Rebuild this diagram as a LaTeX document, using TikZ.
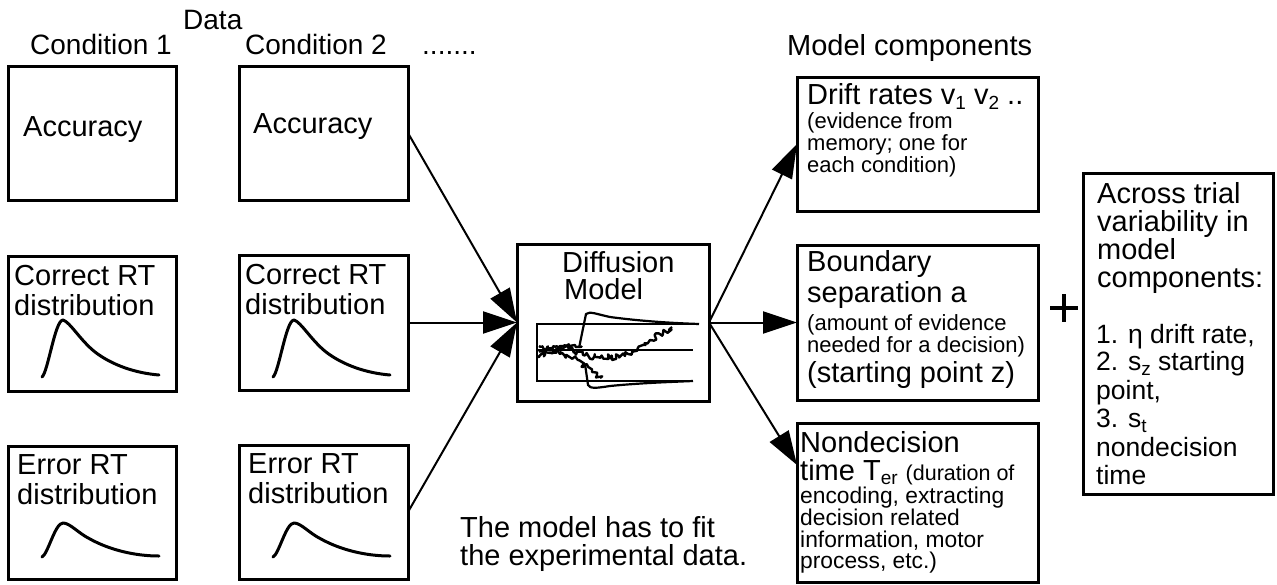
\documentclass[tikz,border=0pt]{standalone}
\usepackage{fontspec}
\setmainfont{Liberation Sans}
\usetikzlibrary{arrows.meta,decorations.pathmorphing}
\newcommand\bigf{\fontsize{29}{29}\selectfont}
\newcommand\midf{\fontsize{26.5}{26.5}\selectfont}
\newcommand\hdf{\fontsize{28}{28}\selectfont}
\newcommand\smallf{\fontsize{22}{22}\selectfont}
\newcommand\ndf{\fontsize{22.8}{22.8}\selectfont}
\newcommand\lsub[1]{\raisebox{-5pt}{\fontsize{19}{19}\selectfont #1}}
\newcommand\tsub[1]{\raisebox{-4pt}{\fontsize{19}{19}\selectfont #1}}
\begin{document}
\begin{tikzpicture}[x=1pt,y=-1pt,
  box/.style={draw,line width=3pt,inner sep=0pt,outer sep=0pt},
  txt/.style={anchor=base west,inner sep=0pt,font=\bigf},
  mtxt/.style={anchor=base west,inner sep=0pt,font=\midf},
  htxt/.style={anchor=base west,inner sep=0pt,font=\hdf},
  stxt/.style={anchor=base west,inner sep=0pt,font=\smallf},
  ntxt/.style={anchor=base west,inner sep=0pt,font=\ndf},
  arr/.style={line width=2pt,-{Triangle[length=34pt,width=22pt]}},
  rtcurve/.style={line width=3pt,line cap=round,line join=round},
  bound/.style={line width=2.2pt},
  noisy/.style={line width=2.4pt,line join=round,decorate,decoration={random steps,segment length=2pt,amplitude=3pt}}
]
\useasboundingbox (0,0) rectangle (1277,584);
\pgfmathsetseed{7}

% headings
\node[htxt] (data) at (183,29) {Data};
\node[htxt] (cond1) at (30,54) {Condition 1};
\node[htxt] (cond2) at (245,54) {Condition 2};
\node[htxt] (dots) at (422,54) {.......};
\node[txt] (mc) at (787,55) {Model components};

% data boxes
\node[box,minimum width=168pt,minimum height=134pt] (acc1) at (92,133) {};
\node[box,minimum width=168pt,minimum height=135pt] (cor1) at (92,323.5) {};
\node[box,minimum width=168pt,minimum height=133pt] (err1) at (92,512.5) {};
\node[box,minimum width=169pt,minimum height=134pt] (acc2) at (323.5,133) {};
\node[box,minimum width=169pt,minimum height=135pt] (cor2) at (323.5,322.5) {};
\node[box,minimum width=169pt,minimum height=134pt] (err2) at (323.5,512) {};

\node[txt] (acc1t) at (23,136) {Accuracy};
\node[txt] (acc2t) at (253,133) {Accuracy};
\node[txt] (cor1a) at (14,285) {Correct RT};
\node[txt] (cor1b) at (14,315) {distribution};
\node[txt] (cor2a) at (245,284) {Correct RT};
\node[txt] (cor2b) at (245,314) {distribution};
\node[txt] (err1a) at (17,474) {Error RT};
\node[txt] (err1b) at (17,504) {distribution};
\node[txt] (err2a) at (248,473) {Error RT};
\node[txt] (err2b) at (248,503) {distribution};

% RT distributions
\foreach \dx in {0,231}{
  \begin{scope}[shift={(\dx,0)}]
    \draw[rtcurve] (42,377) .. controls (48,372) and (55,320) .. (63,320)
      .. controls (70,322) and (80,340) .. (95,352)
      .. controls (112,365) and (135,373) .. (159,375);
    \draw[rtcurve] (42,557) .. controls (48,554) and (55,523) .. (63,523)
      .. controls (70,523) and (78,533) .. (90,539)
      .. controls (110,550) and (135,556) .. (159,556);
  \end{scope}
}

% diffusion model
\node[box,minimum width=192pt,minimum height=157pt] (diff) at (613,322.5) {};
\node[txt] (diffa) at (562,272) {Diffusion};
\node[txt] (diffb) at (564,299) {Model};
\draw[bound] (699,324) -- (537,324) -- (537,381) -- (693,381);
\draw[bound] (537,350) -- (693,350);
\draw[bound,line join=round] (579,348) -- (586,314) .. controls (590,311) and (596,314) .. (610,317)
  .. controls (640,321) and (670,323) .. (699,324);
\draw[bound,line join=round] (585,364) -- (588,385) .. controls (590,389) and (597,388) .. (610,386)
  .. controls (640,383) and (670,382) .. (693,381);
\draw[noisy] (539,352) -- (560,346) -- (583,355) -- (600,358) -- (625,356) -- (650,340) -- (672,327);
\draw[noisy] (539,346) -- (560,354) -- (578,360) -- (592,372) -- (600,378);
\draw[noisy] (539,358) -- (555,350) -- (575,345) -- (580,347);

% model component boxes
\node[box,minimum width=241pt,minimum height=134pt] (drift) at (917.5,144) {};
\node[box,minimum width=241pt,minimum height=155pt] (bnd) at (917.5,322.5) {};
\node[box,minimum width=241pt,minimum height=159pt] (nond) at (917.5,502.5) {};
\node[box,minimum width=190pt,minimum height=321pt] (across) at (1178,333.5) {};

\node[txt] (dr1) at (807,104) {Drift rates v\lsub{1} v\lsub{2} ..};
\node[stxt] (dr2) at (807,128) {(evidence from};
\node[stxt] (dr3) at (807,150) {memory; one for};
\node[stxt] (dr4) at (807,172) {each condition)};

\node[txt] (bn1) at (807,271) {Boundary};
\node[txt] (bn2) at (807,302) {separation a};
\node[stxt] (bn3) at (807,330) {(amount of evidence};
\node[stxt] (bn4) at (807,352) {needed for a decision)};
\node[txt] (bn5) at (807,382) {(starting point z)};

\node[txt] (nd1) at (800,452) {Nondecision};
\node[txt] (nd2) at (800,480) {time T\tsub{er} {\fontsize{21.5}{21.5}\selectfont(duration of}};
\node[ntxt] (nd3) at (800,503) {encoding, extracting};
\node[ntxt] (nd4) at (800,525) {decision related};
\node[ntxt] (nd5) at (800,547) {information, motor};
\node[ntxt] (nd6) at (800,568) {process, etc.)};

\node[txt] (ac1) at (1097,203) {Across trial};
\node[txt] (ac2) at (1097,231) {variability in};
\node[txt] (ac3) at (1097,259) {model};
\node[txt] (ac4) at (1097,287) {components:};
\node[mtxt] (ac5) at (1096,343) {1. η drift rate,};
\node[mtxt] (ac6) at (1096,370) {2. s\lsub{z} starting};
\node[mtxt] (ac7) at (1096,399) {point,};
\node[mtxt] (ac8) at (1096,427) {3. s\lsub{t}};
\node[mtxt] (ac9) at (1096,456) {nondecision};
\node[mtxt] (ac10) at (1096,484) {time};

% plus sign
\draw[line width=3.2pt] (1050,308) -- (1078,308) (1064,294) -- (1064,322);

% bottom note
\node[txt] (note1) at (460,537) {The model has to fit};
\node[txt] (note2) at (460,565) {the experimental data.};

% connectors
\draw[arr] (acc2.east) -- (diff.west);
\draw[arr] (cor2.east) -- (diff.west);
\draw[arr] (err2.east) -- (diff.west);
\draw[arr] (diff.east) -- (drift.west);
\draw[arr] (diff.east) -- (bnd.west);
\draw[arr] (diff.east) -- ([yshift=-42pt]nond.north west);
\end{tikzpicture}
\end{document}
